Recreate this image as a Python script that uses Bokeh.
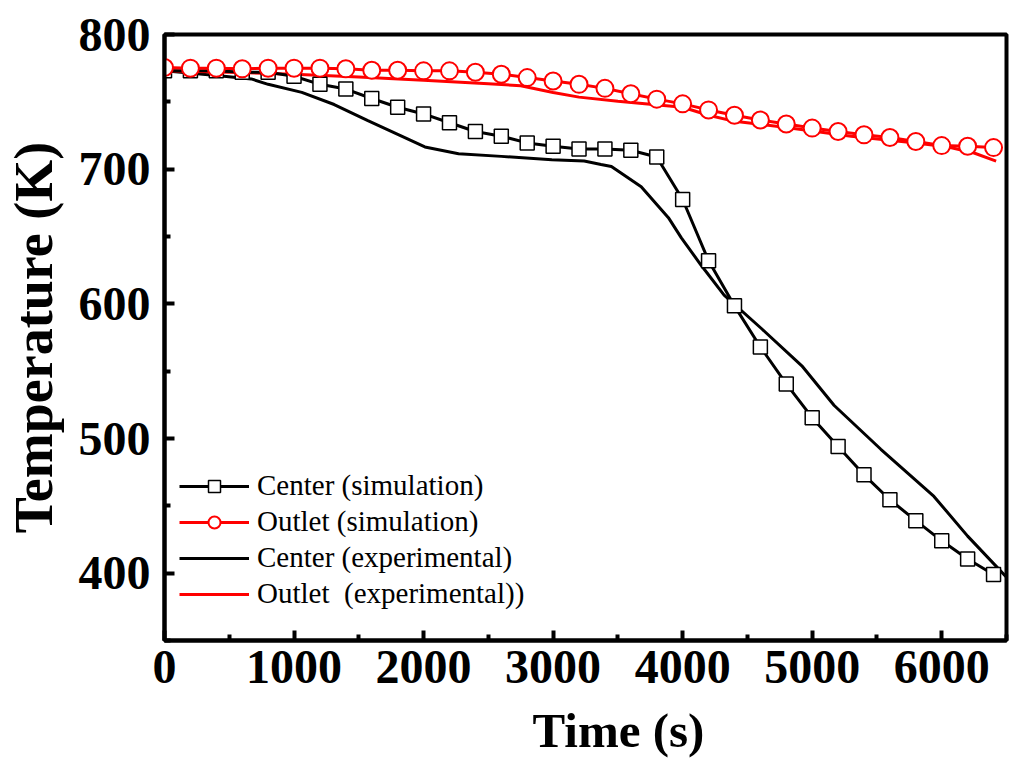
from bokeh.plotting import figure
from bokeh.models import Legend, LegendItem, FixedTicker, Title
from bokeh.embed import file_html
from bokeh.resources import INLINE

# datos
sim_t = [0, 200, 400, 600, 800, 1000, 1200, 1400, 1600, 1800, 2000, 2200, 2400, 2600, 2800, 3000, 3200,
         3400, 3600, 3800, 4000, 4200, 4400, 4600, 4800, 5000, 5200, 5400, 5600, 5800, 6000, 6200, 6400]
center_sim = [773, 773, 773, 772, 772, 769, 763, 759.5, 752.5, 746, 741, 734.5, 728, 724.5, 719.5, 717, 715,
              715, 714, 709, 677.5, 632, 598.5, 568, 540.5, 515.5, 494, 473, 454.5, 439, 424, 410.5, 399]
outlet_sim = [775.5, 775, 775, 774.5, 775, 775, 775, 774.5, 773.5, 773.5, 773, 773, 772, 770.5, 768, 765.5, 763,
              760, 756, 752, 748.5, 744, 740, 736.5, 733.5, 730.5, 728, 725.5, 723.5, 720.5, 717.5, 717, 716]

center_exp_t = [0, 400, 670, 800, 1060, 1310, 1570, 1830, 2010, 2270, 2600, 2990, 3240, 3370, 3450, 3680,
                3890, 3990, 4140, 4320, 4610, 4920, 5170, 5530, 5940, 6200, 6500]
center_exp = [773, 769.5, 767, 763, 757, 748, 736, 724.5, 716.5, 711.5, 709.5, 707, 706, 703.5, 702, 687,
              664, 649, 629, 606.5, 581.5, 554, 524.5, 492, 457, 427.5, 397]

outlet_exp_t = [0, 500, 1000, 1500, 2000, 2500, 2750, 3000, 3200, 3500, 4000, 4200, 4400, 4800, 5300,
                5800, 6050, 6250, 6420]
outlet_exp = [773, 772, 770.5, 768.5, 766, 763.5, 762, 757, 753.5, 750.5, 746, 740, 735.5, 731, 724.5,
              719.5, 716.5, 712, 706]

x_ticks = [0, 1000, 2000, 3000, 4000, 5000, 6000]
x_minor = [500, 1500, 2500, 3500, 4500, 5500, 6500]
y_ticks = [400, 500, 600, 700, 800]
y_minor = [350, 450, 550, 650, 750]

fuente = "Liberation Serif"

p = figure(frame_width=842, frame_height=606, x_range=(0, 6500), y_range=(350, 800),
           output_backend="svg", toolbar_location=None,
           min_border_left=163, min_border_top=34, min_border_right=12, min_border_bottom=0,
           y_axis_label="Temperature (K)")
p.grid.visible = False
p.outline_line_color = "black"
p.outline_line_width = 4

p.xaxis.ticker = FixedTicker(ticks=x_ticks, minor_ticks=x_minor)
p.yaxis.ticker = FixedTicker(ticks=y_ticks, minor_ticks=y_minor)
for ax in [p.xaxis[0], p.yaxis[0]]:
    ax.axis_line_width = 4
    ax.major_tick_in = 10
    ax.major_tick_out = 0
    ax.minor_tick_in = 6
    ax.minor_tick_out = 0
    ax.major_tick_line_width = 4
    ax.minor_tick_line_width = 4
    ax.major_label_text_font = fuente
    ax.major_label_text_font_style = "bold"
    ax.major_label_text_font_size = "48px"
    ax.major_label_text_color = "black"
    ax.axis_label_text_font = fuente
    ax.axis_label_text_font_style = "bold"
    ax.axis_label_text_font_size = "54px"
    ax.axis_label_text_color = "black"
p.xaxis.major_label_standoff = 10
p.yaxis.major_label_standoff = 14
p.yaxis.axis_label_standoff = 12

# titulo del eje x, desplazado a la derecha como en el original
titulo_x = Title(text="Time (s)", align="left", offset=368, standoff=30,
                 text_font=fuente, text_font_style="bold", text_font_size="49px", text_color="black")
p.add_layout(titulo_x, "below")

# lineas experimentales
r_ce = p.line(center_exp_t, center_exp, line_color="black", line_width=3)
r_oe = p.line(outlet_exp_t, outlet_exp, line_color="red", line_width=3)

# simulaciones
r_cs_l = p.line(sim_t, center_sim, line_color="black", line_width=3)
r_cs_m = p.scatter(sim_t, center_sim, marker="square", size=14, fill_color="white",
                   line_color="black", line_width=1.5)
r_os_l = p.line(sim_t, outlet_sim, line_color="red", line_width=3)
r_os_m = p.scatter(sim_t, outlet_sim, marker="circle", size=17, fill_color="white",
                   line_color="red", line_width=2)

leyenda = Legend(items=[
    LegendItem(label="Center (simulation)", renderers=[r_cs_l, r_cs_m]),
    LegendItem(label="Outlet (simulation)", renderers=[r_os_l, r_os_m]),
    LegendItem(label="Center (experimental)", renderers=[r_ce]),
    LegendItem(label="Outlet  (experimental))", renderers=[r_oe]),
], location=(7, 22))
leyenda.border_line_alpha = 0
leyenda.background_fill_alpha = 0
leyenda.margin = 0
leyenda.padding = 8
leyenda.spacing = 3
leyenda.glyph_width = 70
leyenda.glyph_height = 30
leyenda.label_height = 30
leyenda.label_standoff = 8
leyenda.label_text_font = fuente
leyenda.label_text_font_size = "29px"
leyenda.label_text_color = "black"
p.add_layout(leyenda)

open("out.html", "w").write(file_html(p, INLINE))
